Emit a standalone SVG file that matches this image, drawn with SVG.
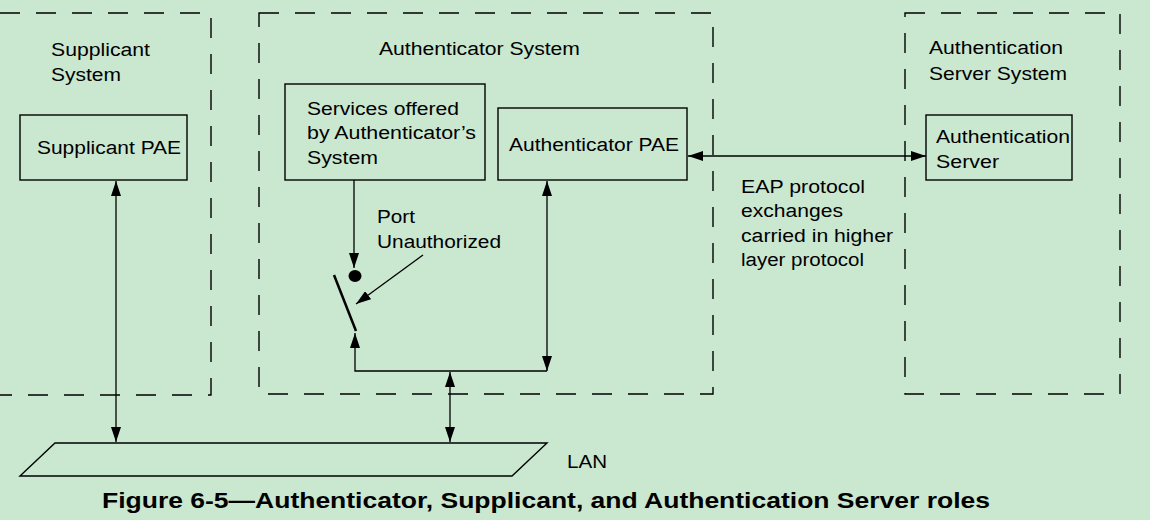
<svg xmlns="http://www.w3.org/2000/svg" width="1150" height="520" viewBox="0 0 1150 520">
<style>
text{font-family:"Liberation Sans",Arial,sans-serif;font-size:18px;fill:#000}
.sys{fill:none;stroke:#000;stroke-width:1.4;stroke-dasharray:20 16}
.box{fill:none;stroke:#000;stroke-width:1.4}
.ln{fill:none;stroke:#000;stroke-width:1.3}
.title{font-weight:bold;font-size:22px}
</style>
<defs>
<marker id="ah" viewBox="0 0 15 10" refX="15" refY="5" markerWidth="15" markerHeight="10" markerUnits="userSpaceOnUse" orient="auto-start-reverse">
<path d="M0,0 L15,5 L0,10 z" fill="#000"/>
</marker>
</defs>
<rect width="1150" height="520" fill="#CAE7D0"/>
<g id="supplicant-system">
<path class="sys" d="M0,13 H211 V395 H0"/>
<text x="51" y="56" textLength="99" lengthAdjust="spacingAndGlyphs">Supplicant</text>
<text x="51" y="81" textLength="70" lengthAdjust="spacingAndGlyphs">System</text>
</g>
<g id="authenticator-system">
<rect class="sys" x="259" y="13" width="454" height="381"/>
<text x="379" y="55" textLength="201" lengthAdjust="spacingAndGlyphs">Authenticator System</text>
</g>
<g id="server-system">
<rect class="sys" x="905" y="13" width="215" height="381"/>
<text x="929" y="54" textLength="134" lengthAdjust="spacingAndGlyphs">Authentication</text>
<text x="929" y="80" textLength="138" lengthAdjust="spacingAndGlyphs">Server System</text>
</g>
<g id="supplicant-pae">
<rect class="box" x="20" y="115" width="167" height="65"/>
<text x="37" y="154" textLength="144" lengthAdjust="spacingAndGlyphs">Supplicant PAE</text>
</g>
<g id="services">
<rect class="box" x="285" y="84" width="200" height="96"/>
<text x="307" y="115" textLength="152" lengthAdjust="spacingAndGlyphs">Services offered</text>
<text x="307" y="139" textLength="169" lengthAdjust="spacingAndGlyphs">by Authenticator’s</text>
<text x="307" y="164" textLength="71" lengthAdjust="spacingAndGlyphs">System</text>
</g>
<g id="authenticator-pae">
<rect class="box" x="498" y="108" width="189" height="72"/>
<text x="509" y="151" textLength="170" lengthAdjust="spacingAndGlyphs">Authenticator PAE</text>
</g>
<g id="auth-server">
<rect class="box" x="926" y="115" width="146" height="65"/>
<text x="936" y="143" textLength="134" lengthAdjust="spacingAndGlyphs">Authentication</text>
<text x="936" y="168" textLength="63" lengthAdjust="spacingAndGlyphs">Server</text>
</g>
<g id="lan">
<path class="box" d="M20,476 L55,443 H547 L512,476 Z"/>
<text x="567" y="468" textLength="40" lengthAdjust="spacingAndGlyphs">LAN</text>
</g>
<g id="port-switch">
<ellipse cx="355" cy="276" rx="6.5" ry="6" fill="#000"/>
<line x1="334" y1="275" x2="356" y2="331" stroke="#000" stroke-width="2.5"/>
<text x="377" y="223" textLength="38" lengthAdjust="spacingAndGlyphs">Port</text>
<text x="377" y="248" textLength="124" lengthAdjust="spacingAndGlyphs">Unauthorized</text>
</g>
<g id="connectors">
<line class="ln" x1="116" y1="181" x2="116" y2="442" marker-start="url(#ah)" marker-end="url(#ah)"/>
<line class="ln" x1="688" y1="156" x2="926" y2="156" marker-start="url(#ah)" marker-end="url(#ah)"/>
<line class="ln" x1="547" y1="181" x2="547" y2="371" marker-start="url(#ah)" marker-end="url(#ah)"/>
<line class="ln" x1="450" y1="372" x2="450" y2="442" marker-start="url(#ah)" marker-end="url(#ah)"/>
<line class="ln" x1="354" y1="180" x2="354" y2="268" marker-end="url(#ah)"/>
<polyline class="ln" points="547,371 355,371 355,333" marker-end="url(#ah)"/>
<line class="ln" x1="423" y1="255" x2="356" y2="304" marker-end="url(#ah)"/>
</g>
<text x="741" y="193" textLength="124" lengthAdjust="spacingAndGlyphs">EAP protocol</text>
<text x="741" y="217" textLength="102" lengthAdjust="spacingAndGlyphs">exchanges</text>
<text x="741" y="242" textLength="152" lengthAdjust="spacingAndGlyphs">carried in higher</text>
<text x="741" y="266" textLength="123" lengthAdjust="spacingAndGlyphs">layer protocol</text>
<text class="title" x="102" y="508" textLength="888" lengthAdjust="spacingAndGlyphs">Figure 6-5—Authenticator, Supplicant, and Authentication Server roles</text>
</svg>
